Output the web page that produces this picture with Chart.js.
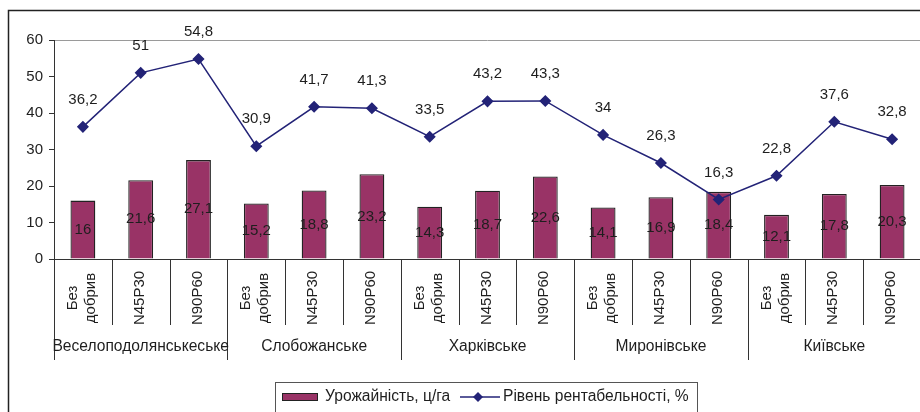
<!DOCTYPE html>
<html lang="uk">
<head>
<meta charset="utf-8">
<title>Урожайність і рентабельність</title>
<script src="https://cdn.jsdelivr.net/npm/chart.js@4.4.1/dist/chart.umd.min.js"></script>
<style>
    html, body {
        margin: 0;
        padding: 0;
        overflow: hidden;
        background: #ffffff;
    }

    #chart-container {
        position: relative;
        width: 935px;
        height: 412px;
    }
</style>
</head>
<body>
<div id="chart-container">
    <canvas id="chart"></canvas>
</div>
<script>
// Sub-categories (fertiliser variants), repeated for each variety
const variants = [
    ["Без", "добрив"], "N45P30", "N90P60",
    ["Без", "добрив"], "N45P30", "N90P60",
    ["Без", "добрив"], "N45P30", "N90P60",
    ["Без", "добрив"], "N45P30", "N90P60",
    ["Без", "добрив"], "N45P30", "N90P60"
];

// Variety groups, three variants each
const groups = ["Веселоподолянськеське", "Слобожанське", "Харківське", "Миронівське", "Київське"];

// Series values
const yieldValues  = [16, 21.6, 27.1, 15.2, 18.8, 23.2, 14.3, 18.7, 22.6, 14.1, 16.9, 18.4, 12.1, 17.8, 20.3];
const profitValues = [36.2, 51, 54.8, 30.9, 41.7, 41.3, 33.5, 43.2, 43.3, 34, 26.3, 16.3, 22.8, 37.6, 32.8];

// Value axis ticks
const yTicks = [0, 10, 20, 30, 40, 50, 60];

const FONT       = "'Liberation Sans', Arial, sans-serif";
const TEXT_COLOR = "#1e1e1e";
const BAR_COLOR  = "#993366";
const LINE_COLOR = "#232377";

/**
 * Formats a number with a decimal comma.
 *
 * @param {number} value
 *
 * @returns {string}
 */
function formatValue(value)
{
    return String(value).replace(".", ",");
}

/**
 * Draws the frame, data labels, the two-level category axis and the legend.
 */
const decorationPlugin = {
    id: "decoration",

    beforeDraw(chart)
    {
        const ctx  = chart.ctx;
        const area = chart.chartArea;

        ctx.save();

        // Outer chart frame (cut at the right and bottom in the reference)
        ctx.strokeStyle = "#222222";
        ctx.lineWidth   = 1.5;
        ctx.strokeRect(8.5, 10.5, 2000, 2000);

        // Plot area top border
        ctx.strokeStyle = "#9a9a9a";
        ctx.lineWidth   = 1;
        ctx.beginPath();
        ctx.moveTo(area.left, area.top + 0.5);
        ctx.lineTo(area.right, area.top + 0.5);
        ctx.stroke();

        ctx.restore();
    },

    afterDatasetsDraw(chart)
    {
        const ctx = chart.ctx;

        ctx.save();
        ctx.font         = "15px " + FONT;
        ctx.fillStyle    = TEXT_COLOR;
        ctx.textAlign    = "center";
        ctx.textBaseline = "middle";

        chart.data.datasets.forEach((dataset, index) => {
            const meta = chart.getDatasetMeta(index);

            meta.data.forEach((element, i) => {
                const text = formatValue(dataset.data[i]);

                if (dataset.type === "bar") {
                    ctx.fillText(text, element.x, (element.y + element.base) / 2);
                } else {
                    ctx.fillText(text, element.x, element.y - 27);
                }
            });
        });

        ctx.restore();
    },

    afterDraw(chart)
    {
        const ctx    = chart.ctx;
        const area   = chart.chartArea;
        const xScale = chart.scales.x;
        const count  = variants.length;
        const step   = (area.right - area.left) / count;

        ctx.save();

        // Category axis line
        ctx.strokeStyle = "#333333";
        ctx.lineWidth   = 1;
        ctx.beginPath();
        ctx.moveTo(area.left, area.bottom + 0.5);
        ctx.lineTo(area.right, area.bottom + 0.5);
        ctx.stroke();

        // Separators between categories and between groups
        for (let i = 0; i <= count; ++i) {
            const x      = Math.round(area.left + i * step) + 0.5;
            const bottom = (i % 3 === 0) ? 360 : 325;

            ctx.beginPath();
            ctx.moveTo(x, area.bottom);
            ctx.lineTo(x, bottom);
            ctx.stroke();
        }

        // Rotated variant labels
        ctx.font         = "15px " + FONT;
        ctx.fillStyle    = TEXT_COLOR;
        ctx.textAlign    = "center";
        ctx.textBaseline = "middle";

        variants.forEach((label, i) => {
            const lines = Array.isArray(label) ? label : [label];
            const x     = xScale.getPixelForValue(i) - 1;

            ctx.save();
            ctx.translate(x, 298);
            ctx.rotate(-Math.PI / 2);

            lines.forEach((line, j) => {
                ctx.fillText(line, 0, (j - (lines.length - 1) / 2) * 18);
            });

            ctx.restore();
        });

        // Group labels
        ctx.font = "15.6px " + FONT;

        groups.forEach((label, g) => {
            const x = area.left + (g * 3 + 1.5) * step;
            ctx.fillText(label, x, 347);
        });

        // Legend
        const legendX = 275.5;
        const legendY = 382.5;
        const midY    = 397;

        ctx.strokeStyle = "#555555";
        ctx.strokeRect(legendX, legendY, 422, 60);

        ctx.fillStyle   = BAR_COLOR;
        ctx.strokeStyle = "#222222";
        ctx.fillRect(282, 393, 36, 8);
        ctx.strokeRect(282.5, 393.5, 35, 7);

        ctx.fillStyle = TEXT_COLOR;
        ctx.textAlign = "left";
        ctx.fillText(chart.data.datasets[1].label, 325, midY);

        ctx.strokeStyle = LINE_COLOR;
        ctx.lineWidth   = 1.5;
        ctx.beginPath();
        ctx.moveTo(460, midY);
        ctx.lineTo(500, midY);
        ctx.stroke();

        ctx.fillStyle = LINE_COLOR;
        ctx.beginPath();
        ctx.moveTo(478, midY - 5);
        ctx.lineTo(483, midY);
        ctx.lineTo(478, midY + 5);
        ctx.lineTo(473, midY);
        ctx.closePath();
        ctx.fill();

        ctx.fillStyle = TEXT_COLOR;
        ctx.fillText(chart.data.datasets[0].label, 503, midY);

        ctx.restore();
    }
};

new Chart(document.getElementById("chart"), {
    data: {
        labels: variants,
        datasets: [
            {
                type: "line",
                label: "Рівень рентабельності, %",
                data: profitValues,
                borderColor: LINE_COLOR,
                backgroundColor: LINE_COLOR,
                borderWidth: 1.5,
                pointStyle: "rectRot",
                pointRadius: 5,
                pointHoverRadius: 5,
                tension: 0,
                order: 0
            },
            {
                type: "bar",
                label: "Урожайність, ц/га",
                data: yieldValues,
                backgroundColor: BAR_COLOR,
                borderColor: "#222222",
                borderWidth: 1.3,
                barPercentage: 0.43,
                categoryPercentage: 1,
                order: 1
            }
        ]
    },
    options: {
        responsive: true,
        maintainAspectRatio: false,
        animation: false,
        devicePixelRatio: 1,
        layout: {
            padding: { left: 0, top: 40, right: 14, bottom: 153 }
        },
        plugins: {
            legend: { display: false },
            tooltip: { enabled: false }
        },
        scales: {
            x: {
                display: false
            },
            y: {
                min: yTicks[0],
                max: yTicks[yTicks.length - 1],
                afterFit: (scale) => { scale.width = 54; },
                afterBuildTicks: (scale) => {
                    scale.ticks = yTicks.map((v) => ({ value: v }));
                },
                grid: {
                    drawOnChartArea: false,
                    drawTicks: true,
                    tickLength: 5,
                    color: "#333333"
                },
                border: { display: true, color: "#333333", width: 1 },
                ticks: {
                    padding: 6,
                    color: TEXT_COLOR,
                    font: { size: 15, family: FONT }
                }
            }
        }
    },
    plugins: [decorationPlugin]
});
</script>
</body>
</html>
